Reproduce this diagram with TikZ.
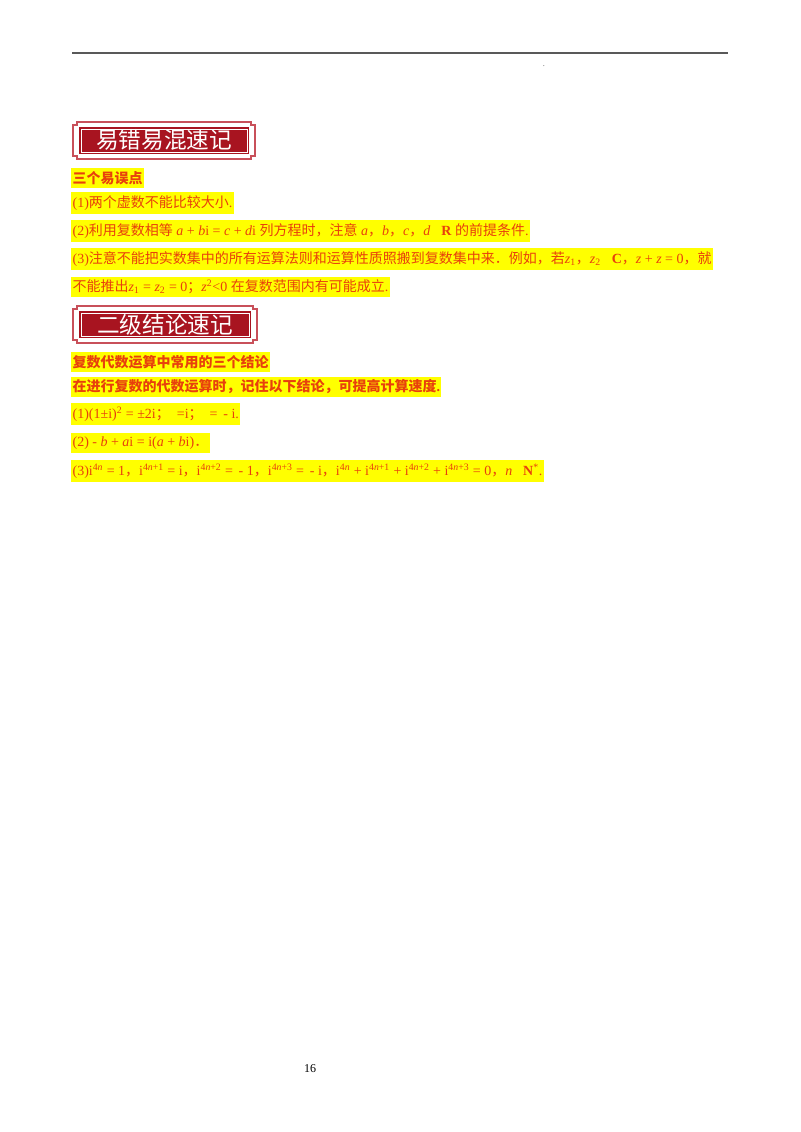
\documentclass[tikz,border=0pt]{standalone}
\usepackage{fontspec}
\setmainfont{Liberation Serif}
\newfontfamily\zhf{Noto Sans CJK SC}
\newcommand{\zh}[1]{{\zhf #1}}
\newcommand{\mi}[1]{\textit{#1}}
\definecolor{txt}{HTML}{E8400C}
\definecolor{hl}{HTML}{FFFF00}
\definecolor{bred}{HTML}{A81420}
\definecolor{bline}{HTML}{C8505A}
\begin{document}
\begin{tikzpicture}[x=0.75pt,y=-0.75pt,
  ln/.style={anchor=west,fill=hl,text=txt,inner xsep=1pt,inner ysep=2.5pt,font=\fontsize{10.5pt}{12pt}\selectfont},
  hd/.style={ln,font=\fontsize{10.5pt}{12pt}\selectfont\bfseries},
  bannertxt/.style={text=white,font=\zhf\fontsize{17pt}{19pt}\selectfont}]
\useasboundingbox (0,0) rectangle (800,1132);
\draw[gray!70!black,line width=0.8pt] (72,53) coordinate (l1) -- (728,53) coordinate (l2);
\node[font=\tiny,inner sep=0] (dot) at (544,66) {.};
% banner 1
\foreach \y/\w/\n in {122/182/a,306/184/b}{
  \begin{scope}[shift={(73,\y)}]
    \draw[bline,line width=1pt] (4,0) -- (\w-4,0) -- (\w-4,3) -- (\w,3) -- (\w,34) -- (\w-4,34) -- (\w-4,37) -- (4,37) -- (4,34) -- (0,34) -- (0,3) -- (4,3) -- cycle;
    \fill[bred] (6,5) rectangle (\w-6,32);
    \draw[white,line width=0.6pt] (8,7) rectangle (\w-8,30);
  \end{scope}}
\node[bannertxt] (b1) at (164,140) {易错易混速记};
\node[bannertxt] (b2) at (165,325) {二级结论速记};
\node[hd] (h1) at (71,178) {\zh{三个易误点}};
\node[ln] (p1) at (71,203) {(1)\zh{两个虚数不能比较大小}.};
\node[ln] (p2) at (71,231) {(2)\zh{利用复数相等} \mi{a} + \mi{b}i = \mi{c} + \mi{d}i \zh{列方程时，注意} \mi{a}\zh{，}\mi{b}\zh{，}\mi{c}\zh{，}\mi{d}∈\textbf{R} \zh{的前提条件}.};
\node[ln] (p3) at (71,259) {(3)\zh{注意不能把实数集中的所有运算法则和运算性质照搬到复数集中来．例如，若}\mi{z}\textsubscript{1}\zh{，}\mi{z}\textsubscript{2}∈\textbf{C}\zh{，}\mi{z} + \mi{z} = 0\zh{，就}};
\node[ln] (p4) at (71,287) {\zh{不能推出}\mi{z}\textsubscript{1} = \mi{z}\textsubscript{2} = 0\zh{；}\mi{z}\textsuperscript{2}<0 \zh{在复数范围内有可能成立}.};
\node[hd] (h2) at (71,362) {\zh{复数代数运算中常用的三个结论}};
\node[hd] (h3) at (71,387) {\zh{在进行复数的代数运算时，记住以下结论，可提高计算速度}.};
\node[ln] (q1) at (71,414) {(1)(1±i)\textsuperscript{2} = ±2i\zh{；}\enspace =i\zh{；}\enspace = \,- i.};
\node[ln] (q2) at (71,443) {(2) - \mi{b} + \mi{a}i = i(\mi{a} + \mi{b}i)\zh{．}};
\node[ln] (q3) at (71,471) {(3)i\textsuperscript{4\mi{n}} = 1\zh{，}i\textsuperscript{4\mi{n}+1} = i\zh{，}i\textsuperscript{4\mi{n}+2} = \,- 1\zh{，}i\textsuperscript{4\mi{n}+3} = \,- i\zh{，}i\textsuperscript{4\mi{n}} + i\textsuperscript{4\mi{n}+1} + i\textsuperscript{4\mi{n}+2} + i\textsuperscript{4\mi{n}+3} = 0\zh{，}\mi{n}∈\textbf{N}\textsuperscript{*}.};
\node[font=\fontsize{9pt}{10pt}\selectfont] (pg) at (310,1069) {16};
\end{tikzpicture}
\end{document}
